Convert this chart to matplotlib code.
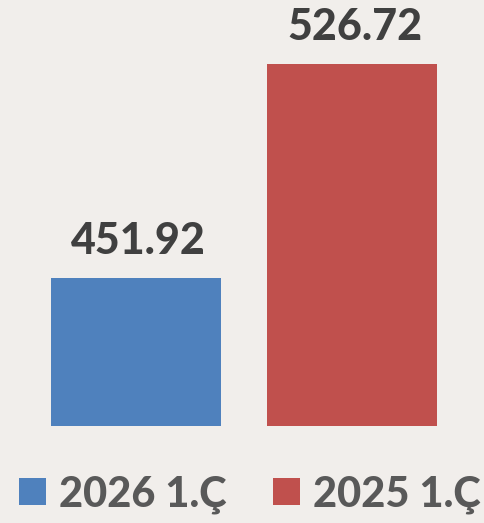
import matplotlib
matplotlib.use("Agg")
import matplotlib.pyplot as plt
from matplotlib.patches import Patch

# data
categories = ["2026 1.Ç", "2025 1.Ç"]
values = [451.92, 526.72]
colors = ["#4f81bd", "#c0504d"]
baseline = 400


def main() -> None:
    plt.rcParams["font.family"] = ["Lato", "DejaVu Sans"]

    fig = plt.figure(figsize=(4.85, 5.23), dpi=100, facecolor="#f1eeeb")
    ax = fig.add_axes([0, 0, 1, 1])
    ax.set_facecolor("#f1eeeb")

    xs = list(range(len(values)))
    heights = [v - baseline for v in values]
    ax.bar(xs, heights, bottom=baseline, width=0.787, color=colors)

    for x, v in zip(xs, values):
        ax.annotate(f"{v:.2f}", xy=(x, v), xytext=(2, 17.5), textcoords="offset points",
                    ha="center", va="baseline", fontsize=31, fontweight="black",
                    color="#404040")

    ax.set_xlim(-0.6296, 1.6157)
    ax.set_ylim(366.2, 549.2)
    ax.axis("off")

    handles = [Patch(facecolor=c, edgecolor="none") for c in colors]
    leg = ax.legend(handles, categories, ncol=2, loc="lower left",
                    bbox_to_anchor=(0.04, 0.018), frameon=False,
                    prop={"size": 30, "weight": "black"},
                    handlelength=0.64, handleheight=0.64,
                    handletextpad=0.32, columnspacing=1.1,
                    borderpad=0, borderaxespad=0)
    for t in leg.get_texts():
        t.set_color("#595959")

    fig.savefig("out.png", dpi=100, facecolor=fig.get_facecolor())


if __name__ == "__main__":
    main()
